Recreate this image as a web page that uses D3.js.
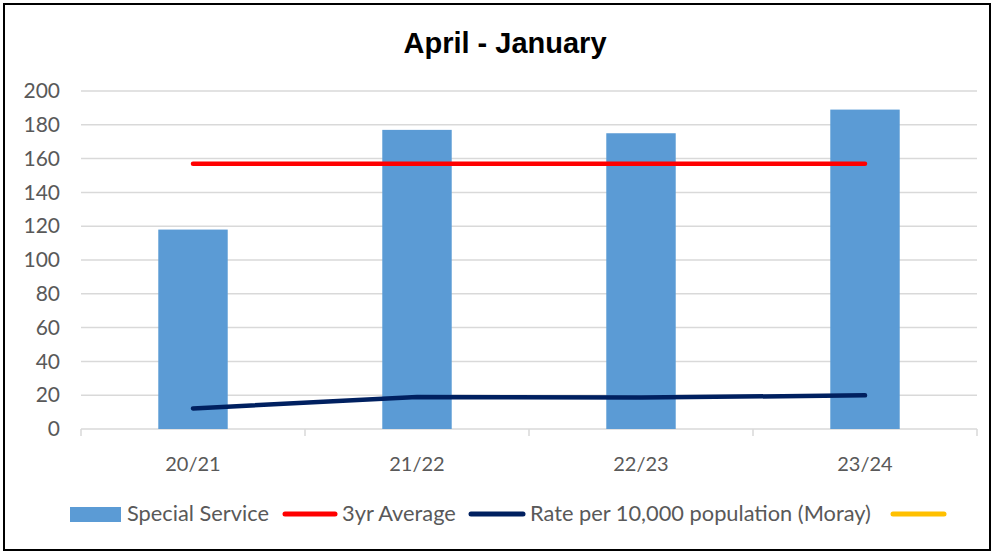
<!doctype html>
<meta charset="utf-8" />
<style>
    body { margin: 0; background: #fff; }
    text { font-family: Lato, "Liberation Sans", sans-serif; fill: #595959; }
</style>
<svg></svg>
<script src="https://cdn.jsdelivr.net/npm/d3@7"></script>
<script>
    var years = ['20/21', '21/22', '22/23', '23/24'];
    var specialService = [118, 177, 175, 189];
    var threeYrAverage = [157, 157, 157, 157];
    var ratePer10k = [12.2, 18.9, 18.6, 19.9];
    var yTicks = [0, 20, 40, 60, 80, 100, 120, 140, 160, 180, 200];
    var legendNames = ['Special Service', '3yr Average', 'Rate per 10,000 population (Moray)', ''];

    var W = 993, H = 552;
    var svg = d3.select('svg').attr('width', W).attr('height', H);

    // outer frame
    svg.append('rect')
        .attr('x', 4).attr('y', 4)
        .attr('width', 986).attr('height', 546)
        .style('fill', 'white')
        .style('stroke', 'black')
        .style('stroke-width', 2);

    var x = d3.scaleBand()
        .domain(years)
        .range([81, 977])
        .paddingInner(0.69)
        .paddingOuter(0.345);

    var y = d3.scaleLinear().domain([0, 200]).range([429, 91]);

    // title
    svg.append('text')
        .attr('x', 505).attr('y', 53)
        .attr('text-anchor', 'middle')
        .style('font-family', '"Liberation Sans", Arial, sans-serif')
        .style('font-weight', 'bold')
        .style('font-size', '29px')
        .style('fill', 'black')
        .text('April - January');

    // gridlines
    svg.append('g').selectAll('line')
        .data(yTicks.filter(d => d > 0))
        .join('line')
        .attr('x1', 81).attr('x2', 977)
        .attr('y1', d => y(d)).attr('y2', d => y(d))
        .style('stroke', '#d9d9d9')
        .style('stroke-width', 1.5);

    // y axis labels
    var yAxis = svg.append('g')
        .attr('transform', 'translate(81,0)')
        .call(d3.axisLeft(y).tickValues(yTicks).tickSize(0).tickPadding(21));
    yAxis.select('.domain').remove();
    yAxis.selectAll('text').style('font-size', '21px').style('fill', '#595959')
        .style('font-family', 'Lato, sans-serif');

    // x axis
    var xEdges = years.map(d => x(d) - x.step() * x.paddingInner() / 2).concat([977]);
    svg.append('line')
        .attr('x1', 81).attr('x2', 977)
        .attr('y1', y(0)).attr('y2', y(0))
        .style('stroke', '#d9d9d9').style('stroke-width', 1.5);
    svg.append('g').selectAll('line')
        .data(xEdges)
        .join('line')
        .attr('x1', d => d).attr('x2', d => d)
        .attr('y1', y(0)).attr('y2', y(0) + 7)
        .style('stroke', '#d9d9d9').style('stroke-width', 1.5);
    svg.append('g').selectAll('text')
        .data(years)
        .join('text')
        .attr('x', d => x(d) + x.bandwidth() / 2)
        .attr('y', 471)
        .attr('text-anchor', 'middle')
        .style('font-size', '20px')
        .text(d => d);

    // bars
    svg.append('g').selectAll('rect')
        .data(specialService)
        .join('rect')
        .attr('x', (d, i) => x(years[i]))
        .attr('y', d => y(d))
        .attr('width', x.bandwidth())
        .attr('height', d => y(0) - y(d))
        .style('fill', '#5B9BD5');

    var line = d3.line()
        .x((d, i) => x(years[i]) + x.bandwidth() / 2)
        .y(d => y(d));

    svg.append('path')
        .attr('d', line(threeYrAverage))
        .style('fill', 'none')
        .style('stroke', '#FF0000')
        .style('stroke-width', 4.5)
        .style('stroke-linecap', 'round');

    svg.append('path')
        .attr('d', line(ratePer10k))
        .style('fill', 'none')
        .style('stroke', '#002060')
        .style('stroke-width', 4.5)
        .style('stroke-linecap', 'round')
        .style('stroke-linejoin', 'round');

    // legend
    var ly = 514;
    var lg = svg.append('g');
    lg.append('rect').attr('x', 70).attr('y', 507).attr('width', 51).attr('height', 15)
        .style('fill', '#5B9BD5');
    lg.append('text').attr('x', 127).attr('y', ly + 7).style('font-size', '21.8px').text(legendNames[0]);

    var legendLines = [
        {x1: 285, x2: 335, color: '#FF0000', tx: 342, name: legendNames[1]},
        {x1: 471, x2: 523, color: '#002060', tx: 530, name: legendNames[2]},
        {x1: 893, x2: 944, color: '#FFC000', tx: null, name: legendNames[3]}
    ];
    legendLines.forEach(function (l) {
        lg.append('line')
            .attr('x1', l.x1).attr('x2', l.x2)
            .attr('y1', ly).attr('y2', ly)
            .style('stroke', l.color)
            .style('stroke-width', 5)
            .style('stroke-linecap', 'round');
        if (l.tx) {
            lg.append('text').attr('x', l.tx).attr('y', ly + 7)
                .style('font-size', '21.8px').text(l.name);
        }
    });
</script>
